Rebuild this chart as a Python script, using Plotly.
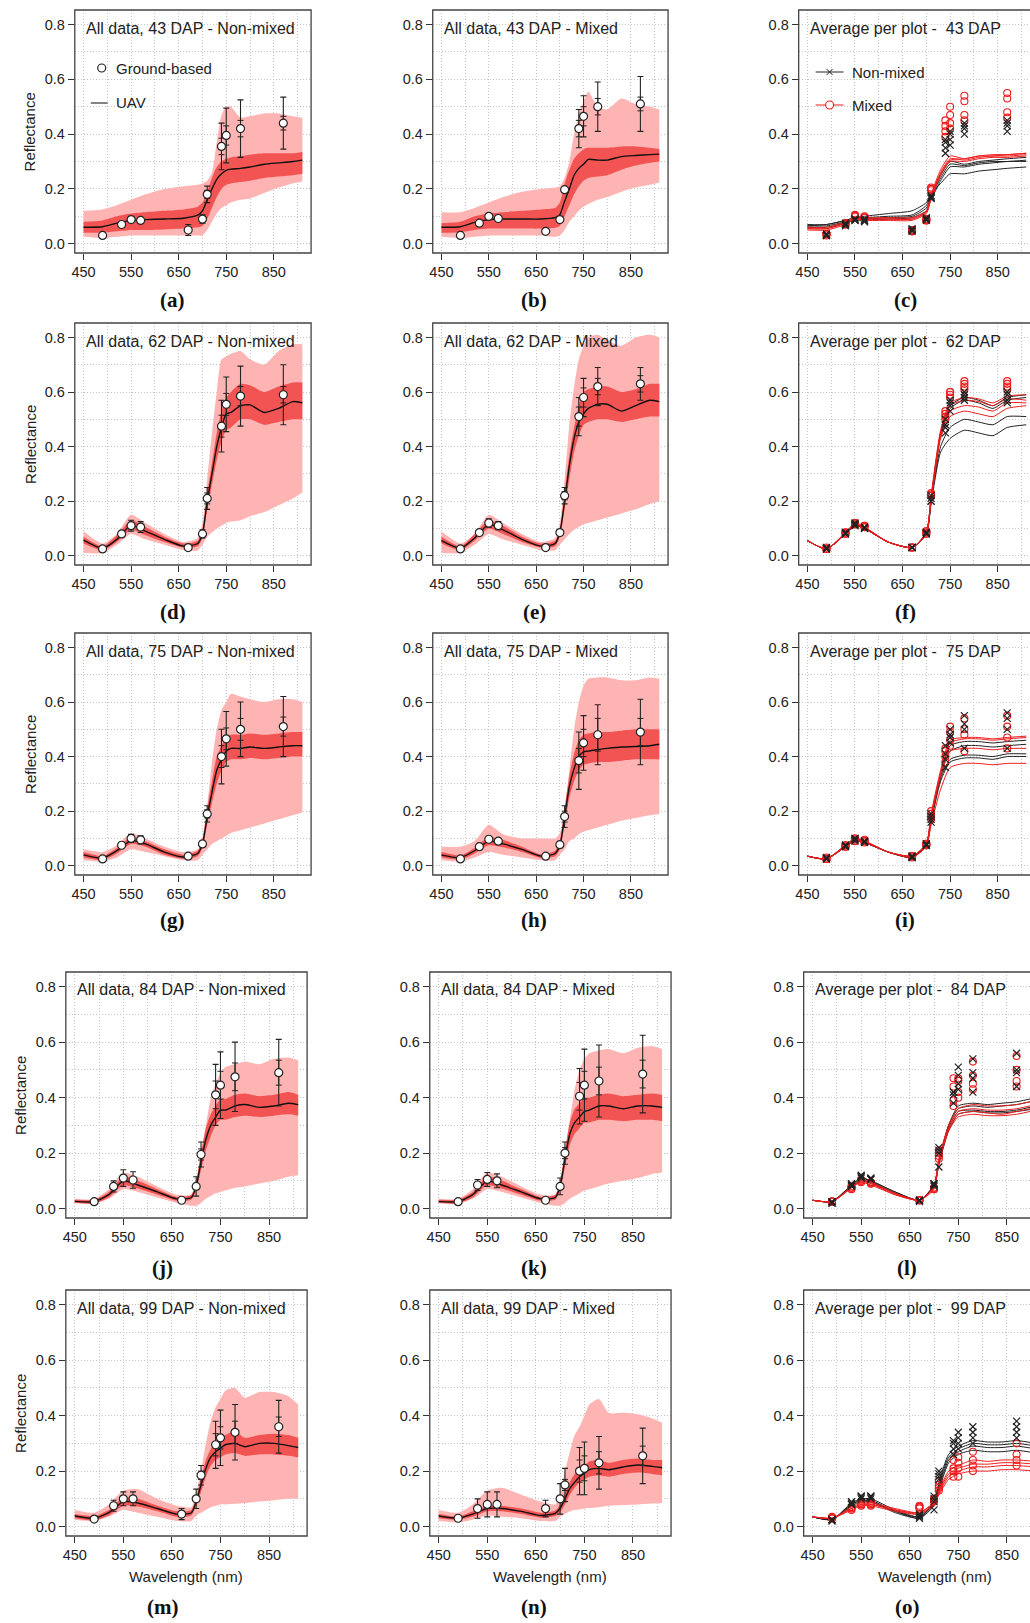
import plotly.graph_objects as go

W, H = 1030, 1623

# ---------------- wavelengths ----------------
wl = [450, 490, 520, 550, 580, 620, 660, 690, 700, 710, 720, 730, 740, 750, 760, 780, 800, 830, 860, 890, 910]
wl_g = [490, 530, 550, 570, 670, 700, 710, 740, 750, 780, 870]
wl3 = [450, 490, 530, 550, 570, 620, 670, 700, 710, 730, 750, 780, 810, 840, 870, 910]
x_ticks = [450, 550, 650, 750, 850]
y_ticks = [0.0, 0.2, 0.4, 0.6, 0.8]

# ---------------- (a) 43 DAP Non-mixed ----------------
a_mean = [.06, .062, .075, .085, .088, .09, .093, .104, .12, .16, .2, .235, .255, .268, .272, .275, .28, .29, .295, .3, .305]
a_in_lo = [.04, .04, .045, .05, .05, .052, .055, .06, .065, .09, .13, .17, .2, .215, .22, .225, .23, .24, .245, .25, .255]
a_in_hi = [.08, .085, .1, .11, .115, .12, .125, .135, .15, .19, .24, .28, .3, .31, .315, .32, .325, .33, .33, .33, .335]
a_out_lo = [.025, .02, .025, .03, .03, .03, .03, .03, .03, .05, .08, .11, .13, .14, .15, .16, .165, .185, .205, .22, .227]
a_out_hi = [.12, .125, .14, .16, .18, .2, .21, .215, .22, .23, .26, .37, .47, .5, .5, .46, .465, .475, .475, .465, .46]
a_gnd = [.03, .07, .088, .085, .05, .09, .18, .355, .395, .42, .44]
a_err = [0, .005, .005, .005, .02, .015, .03, .085, .1, .105, .095]
a_err2 = [0, 0, 0, 0, 0, 0, .015, .03, .035, .03, .025]

# ---------------- (b) 43 DAP Mixed ----------------
b_mean = [.06, .062, .078, .088, .09, .09, .09, .095, .106, .155, .2, .25, .275, .29, .308, .305, .305, .318, .322, .325, .327]
b_in_lo = [.04, .042, .05, .055, .055, .055, .055, .058, .065, .1, .14, .18, .21, .23, .24, .245, .25, .27, .285, .295, .3]
b_in_hi = [.075, .08, .1, .11, .115, .12, .125, .13, .15, .22, .27, .31, .33, .345, .35, .35, .35, .355, .355, .35, .345]
b_out_lo = [.025, .02, .025, .03, .03, .03, .03, .025, .03, .05, .08, .1, .12, .135, .145, .16, .17, .19, .205, .215, .223]
b_out_hi = [.115, .115, .13, .15, .17, .19, .2, .205, .21, .24, .3, .4, .47, .52, .555, .5, .49, .53, .51, .5, .49]
b_gnd = [.03, .075, .1, .092, .045, .088, .197, .42, .465, .5, .51]
b_err = [0, 0, 0, 0, 0, 0, 0, .07, .075, .09, .1]
b_err2 = [0, 0, 0, 0, 0, 0, 0, .03, .035, .03, .025]

# ---------------- (d) 62 DAP Non-mixed ----------------
d_mean = [.057, .027, .06, .112, .09, .06, .035, .045, .08, .2, .3, .4, .47, .52, .525, .55, .553, .525, .54, .565, .56]
d_in_lo = [.045, .02, .05, .095, .075, .05, .03, .035, .065, .17, .26, .35, .42, .46, .47, .5, .5, .48, .49, .5, .5]
d_in_hi = [.07, .035, .075, .13, .105, .07, .045, .055, .1, .23, .34, .45, .53, .58, .6, .63, .625, .6, .62, .635, .635]
d_out_lo = [.01, .01, .04, .08, .06, .04, .02, .02, .04, .07, .085, .1, .11, .12, .125, .13, .145, .16, .185, .21, .232]
d_out_hi = [.09, .045, .08, .15, .12, .08, .05, .065, .12, .28, .45, .6, .72, .73, .74, .75, .72, .7, .75, .775, .775]
d_gnd = [.025, .08, .11, .105, .03, .08, .21, .475, .555, .585, .59]
d_err = [0, .01, .02, .02, 0, .015, .04, .095, .1, .11, .11]
d_err2 = [0, 0, 0, 0, 0, 0, .02, .04, .04, .035, .03]

# ---------------- (e) 62 DAP Mixed ----------------
e_mean = [.055, .027, .065, .115, .095, .06, .035, .045, .085, .2, .33, .43, .49, .52, .54, .555, .555, .53, .55, .57, .565]
e_in_lo = [.045, .02, .055, .1, .08, .05, .03, .035, .07, .17, .28, .38, .44, .48, .49, .5, .5, .49, .5, .51, .51]
e_in_hi = [.07, .035, .08, .13, .11, .07, .045, .055, .1, .23, .37, .47, .55, .6, .61, .62, .62, .6, .61, .63, .63]
e_out_lo = [.01, .01, .04, .08, .06, .04, .02, .02, .04, .06, .08, .095, .105, .115, .12, .13, .14, .155, .17, .19, .2]
e_out_hi = [.09, .045, .08, .15, .12, .08, .05, .065, .12, .28, .48, .62, .72, .77, .8, .81, .79, .77, .8, .81, .8]
e_gnd = [.025, .085, .12, .11, .03, .085, .22, .51, .58, .62, .63]
e_err = [0, .01, .015, .015, 0, .01, .03, .07, .07, .07, .06]
e_err2 = [0, 0, 0, 0, 0, 0, .015, .035, .035, .03, .03]

# ---------------- (g) 75 DAP Non-mixed ----------------
g_mean = [.04, .028, .055, .092, .08, .05, .032, .045, .08, .18, .27, .35, .39, .42, .43, .43, .435, .43, .435, .44, .44]
g_in_lo = [.03, .02, .045, .08, .07, .04, .025, .035, .065, .15, .23, .3, .35, .38, .39, .39, .395, .39, .395, .4, .4]
g_in_hi = [.05, .035, .065, .105, .09, .06, .04, .055, .095, .21, .31, .4, .44, .47, .48, .48, .485, .48, .485, .49, .49]
g_out_lo = [.02, .015, .03, .06, .05, .035, .02, .02, .04, .06, .08, .09, .1, .11, .12, .13, .14, .155, .17, .185, .195]
g_out_hi = [.06, .05, .075, .12, .1, .07, .05, .06, .1, .22, .38, .5, .57, .6, .63, .62, .61, .6, .61, .61, .6]
g_gnd = [.025, .075, .1, .095, .035, .08, .19, .4, .465, .5, .51]
g_err = [0, .01, .015, .015, 0, .01, .03, .1, .1, .1, .11]
g_err2 = [0, 0, 0, 0, 0, 0, .015, .04, .04, .04, .035]

# ---------------- (h) 75 DAP Mixed ----------------
h_mean = [.039, .03, .055, .09, .08, .06, .035, .045, .075, .178, .29, .356, .4, .417, .42, .426, .43, .435, .437, .44, .445]
h_in_lo = [.03, .022, .045, .075, .068, .05, .028, .035, .06, .15, .25, .31, .35, .37, .375, .38, .38, .385, .39, .39, .39]
h_in_hi = [.05, .038, .065, .105, .095, .07, .042, .055, .09, .21, .33, .41, .46, .48, .485, .49, .49, .495, .5, .5, .5]
h_out_lo = [.02, .015, .03, .05, .04, .03, .02, .02, .04, .06, .09, .1, .115, .125, .13, .14, .15, .165, .175, .185, .19]
h_out_hi = [.07, .07, .09, .15, .115, .1, .1, .1, .12, .2, .35, .5, .6, .66, .685, .69, .69, .68, .68, .69, .685]
h_gnd = [.025, .07, .097, .09, .035, .077, .18, .385, .45, .48, .49]
h_err = [0, .01, .01, .01, 0, .01, .04, .105, .1, .11, .12]
h_err2 = [0, 0, 0, 0, 0, 0, .02, .045, .05, .06, .05]

# ---------------- (j) 84 DAP Non-mixed ----------------
j_mean = [.026, .025, .05, .1, .085, .06, .035, .04, .08, .17, .25, .3, .33, .355, .355, .37, .375, .365, .37, .38, .375]
j_in_lo = [.02, .018, .04, .085, .072, .05, .028, .032, .065, .14, .21, .26, .3, .32, .32, .33, .335, .33, .335, .34, .335]
j_in_hi = [.032, .032, .06, .115, .1, .07, .042, .05, .095, .2, .29, .34, .37, .395, .395, .41, .415, .405, .41, .42, .41]
j_out_lo = [.02, .018, .035, .07, .06, .04, .02, .01, .01, .02, .035, .045, .055, .06, .065, .075, .08, .09, .1, .115, .12]
j_out_hi = [.035, .035, .07, .13, .115, .08, .05, .05, .1, .2, .3, .4, .45, .49, .51, .52, .53, .52, .54, .545, .535]
j_gnd = [.025, .08, .11, .103, .03, .08, .195, .41, .445, .475, .49]
j_err = [0, .02, .03, .03, 0, .035, .045, .11, .12, .125, .12]
j_err2 = [0, 0, 0, 0, 0, 0, .02, .05, .05, .05, .045]

# ---------------- (k) 84 DAP Mixed ----------------
k_mean = [.025, .025, .05, .1, .085, .06, .035, .04, .08, .18, .27, .31, .33, .35, .355, .37, .37, .36, .37, .37, .365]
k_in_lo = [.02, .018, .04, .085, .072, .05, .028, .032, .065, .15, .23, .27, .29, .31, .31, .32, .32, .315, .32, .32, .315]
k_in_hi = [.032, .032, .06, .115, .1, .07, .042, .05, .095, .21, .31, .36, .38, .4, .4, .41, .415, .405, .41, .415, .41]
k_out_lo = [.02, .018, .035, .07, .06, .04, .02, .01, .01, .02, .035, .045, .055, .065, .07, .08, .09, .1, .11, .125, .13]
k_out_hi = [.035, .035, .07, .13, .115, .08, .05, .05, .1, .2, .32, .43, .5, .54, .56, .57, .575, .56, .58, .585, .575]
k_gnd = [.025, .085, .105, .1, .03, .08, .2, .405, .445, .46, .485]
k_err = [0, .02, .025, .025, 0, .03, .04, .1, .13, .13, .14]
k_err2 = [0, 0, 0, 0, 0, 0, .02, .05, .05, .05, .05]

# ---------------- (m) 99 DAP Non-mixed ----------------
m_mean = [.038, .03, .05, .09, .085, .065, .045, .05, .09, .15, .21, .25, .27, .282, .295, .3, .288, .3, .3, .292, .285]
m_in_lo = [.03, .022, .04, .075, .072, .055, .035, .04, .075, .125, .18, .22, .24, .25, .26, .265, .255, .26, .26, .255, .25]
m_in_hi = [.045, .038, .06, .105, .1, .075, .055, .06, .105, .175, .24, .28, .3, .315, .33, .345, .32, .33, .335, .33, .32]
m_out_lo = [.025, .02, .035, .06, .05, .035, .02, .02, .04, .05, .06, .07, .075, .08, .08, .082, .085, .09, .095, .1, .1]
m_out_hi = [.06, .05, .08, .13, .135, .1, .075, .07, .12, .2, .3, .38, .43, .46, .49, .5, .465, .485, .485, .47, .44]
m_gnd = [.027, .075, .1, .1, .045, .1, .185, .295, .32, .34, .36]
m_err = [0, .02, .025, .025, .02, .035, .035, .085, .1, .1, .095]
m_err2 = [0, 0, 0, 0, 0, 0, .015, .04, .04, .04, .035]

# ---------------- (n) 99 DAP Mixed ----------------
n_mean = [.038, .03, .045, .065, .065, .055, .04, .048, .066, .1, .138, .16, .18, .192, .205, .21, .205, .215, .222, .217, .212]
n_in_lo = [.03, .024, .035, .055, .055, .045, .032, .038, .052, .08, .115, .14, .16, .17, .18, .185, .18, .19, .195, .19, .185]
n_in_hi = [.045, .036, .055, .075, .075, .065, .05, .058, .08, .12, .16, .19, .21, .22, .235, .24, .23, .24, .245, .24, .24]
n_out_lo = [.02, .015, .025, .04, .035, .03, .02, .02, .035, .045, .055, .06, .062, .065, .067, .07, .075, .078, .08, .083, .085]
n_out_hi = [.06, .05, .08, .13, .14, .115, .09, .08, .12, .2, .27, .33, .36, .4, .44, .46, .41, .41, .405, .39, .375]
n_gnd = [.03, .065, .08, .08, .065, .1, .15, .2, .21, .23, .255]
n_err = [0, .035, .045, .045, .03, .055, .06, .085, .095, .095, .1]
n_err2 = [0, 0, 0, 0, 0, 0, .02, .04, .045, .04, .035]

# ---------------- (c) average per plot 43 DAP ----------------
c_nm_lines = [
    [.07, .07, .085, .095, .095, .1, .105, .14, .18, .25, .3, .29, .3, .305, .31, .315],
    [.065, .065, .08, .09, .09, .095, .1, .13, .17, .24, .29, .285, .295, .3, .3, .305],
    [.06, .06, .075, .085, .085, .09, .095, .12, .16, .23, .28, .28, .29, .295, .3, .3],
    [.065, .07, .085, .095, .1, .11, .12, .15, .18, .22, .255, .255, .265, .27, .275, .28]]
c_m_lines = [
    [.06, .06, .08, .1, .095, .095, .095, .12, .18, .27, .32, .31, .32, .325, .325, .33],
    [.055, .055, .075, .095, .09, .09, .09, .115, .17, .26, .31, .305, .315, .32, .32, .325],
    [.05, .05, .07, .09, .085, .085, .085, .11, .165, .25, .3, .3, .31, .315, .315, .32],
    [.055, .055, .075, .09, .09, .09, .09, .115, .17, .255, .305, .31, .32, .32, .325, .33]]
c_nm_pts = [
    [.03, .07, .09, .085, .05, .09, .17, .33, .36, .4, .41],
    [.035, .075, .085, .09, .055, .085, .175, .35, .38, .42, .43],
    [.03, .07, .09, .085, .045, .09, .17, .37, .4, .43, .44],
    [.035, .065, .085, .08, .05, .095, .165, .38, .41, .44, .45]]
c_m_pts = [
    [.035, .07, .1, .095, .045, .085, .2, .39, .42, .45, .46],
    [.035, .075, .1, .1, .05, .09, .2, .41, .44, .47, .48],
    [.03, .07, .105, .095, .045, .085, .195, .43, .47, .52, .53],
    [.035, .075, .1, .095, .05, .09, .205, .45, .5, .54, .55]]

# ---------------- (f) average per plot 62 DAP ----------------
f_nm_lines = [
    [.055, .025, .08, .11, .1, .05, .03, .08, .2, .45, .55, .58, .57, .55, .58, .59],
    [.055, .025, .08, .115, .1, .05, .03, .085, .21, .44, .54, .57, .56, .54, .57, .58],
    [.055, .025, .08, .11, .1, .05, .03, .08, .2, .4, .47, .5, .49, .48, .51, .51],
    [.055, .025, .08, .11, .1, .05, .03, .08, .19, .38, .43, .46, .45, .44, .47, .48]]
f_m_lines = [
    [.055, .025, .085, .12, .105, .05, .03, .085, .22, .46, .56, .58, .575, .56, .585, .59],
    [.055, .025, .085, .115, .105, .05, .03, .085, .215, .45, .55, .57, .565, .55, .575, .57],
    [.055, .025, .08, .115, .1, .05, .03, .085, .21, .44, .53, .55, .545, .53, .56, .56],
    [.055, .025, .08, .11, .1, .05, .03, .08, .2, .43, .51, .53, .52, .51, .54, .55]]
f_nm_pts = [
    [.025, .08, .11, .1, .03, .08, .2, .45, .53, .57, .56],
    [.025, .085, .115, .105, .03, .085, .21, .47, .55, .58, .57],
    [.025, .08, .12, .1, .03, .08, .22, .48, .56, .59, .59],
    [.03, .085, .115, .105, .03, .085, .2, .5, .57, .6, .6]]
f_m_pts = [
    [.025, .085, .12, .11, .03, .085, .22, .5, .58, .61, .61],
    [.025, .08, .115, .105, .03, .08, .225, .51, .59, .62, .62],
    [.03, .085, .12, .11, .03, .085, .23, .52, .6, .63, .63],
    [.025, .085, .115, .105, .03, .09, .22, .53, .6, .64, .64]]

# ---------------- (i) average per plot 75 DAP ----------------
i_nm_lines = [
    [.035, .025, .07, .09, .085, .05, .03, .075, .17, .33, .44, .455, .455, .45, .455, .46],
    [.035, .025, .075, .1, .09, .05, .035, .08, .18, .33, .42, .44, .44, .435, .44, .445],
    [.035, .025, .07, .095, .085, .05, .03, .075, .17, .32, .39, .405, .405, .4, .41, .41],
    [.035, .025, .07, .09, .085, .05, .03, .075, .16, .31, .38, .395, .395, .39, .4, .4]]
i_m_lines = [
    [.035, .025, .075, .1, .09, .05, .035, .08, .19, .35, .46, .47, .47, .465, .47, .475],
    [.035, .025, .075, .1, .09, .05, .035, .08, .18, .34, .45, .465, .465, .46, .465, .47],
    [.035, .025, .07, .095, .09, .05, .035, .075, .17, .33, .42, .43, .43, .425, .43, .43],
    [.035, .025, .07, .09, .085, .05, .03, .07, .15, .28, .36, .375, .375, .37, .375, .375]]
i_nm_pts = [
    [.025, .07, .09, .085, .03, .075, .16, .36, .45, .43, .43],
    [.025, .075, .1, .09, .035, .08, .17, .39, .47, .5, .5],
    [.025, .07, .095, .09, .03, .075, .18, .41, .48, .52, .54],
    [.03, .075, .1, .09, .035, .08, .19, .44, .5, .55, .56]]
i_m_pts = [
    [.025, .07, .09, .085, .035, .075, .17, .38, .44, .42, .43],
    [.025, .075, .1, .09, .035, .08, .18, .4, .46, .48, .47],
    [.025, .07, .095, .09, .03, .075, .19, .42, .49, .5, .51],
    [.03, .075, .1, .095, .035, .08, .2, .43, .51, .54, .55]]

# ---------------- (l) average per plot 84 DAP ----------------
l_nm_lines = [
    [.03, .025, .085, .11, .1, .06, .03, .085, .17, .3, .37, .38, .375, .38, .385, .4],
    [.03, .025, .085, .11, .1, .06, .03, .085, .17, .3, .36, .37, .365, .37, .375, .39],
    [.03, .025, .08, .105, .095, .055, .03, .08, .16, .29, .35, .355, .35, .35, .355, .37],
    [.03, .025, .08, .1, .095, .055, .03, .08, .16, .28, .34, .35, .345, .345, .35, .36]]
l_m_lines = [
    [.03, .025, .08, .105, .095, .055, .03, .08, .18, .3, .36, .375, .37, .37, .375, .39],
    [.03, .025, .075, .1, .09, .055, .03, .075, .175, .29, .35, .36, .355, .355, .36, .375],
    [.03, .025, .075, .1, .09, .05, .03, .075, .17, .285, .34, .35, .345, .34, .35, .365],
    [.03, .025, .075, .095, .085, .05, .03, .07, .165, .28, .33, .34, .335, .335, .34, .355]]
l_nm_pts = [
    [.025, .085, .115, .11, .03, .09, .15, .38, .43, .42, .44],
    [.02, .09, .12, .105, .03, .085, .2, .41, .45, .47, .49],
    [.025, .08, .11, .11, .03, .08, .21, .42, .48, .49, .5],
    [.02, .085, .115, .105, .025, .09, .22, .42, .51, .54, .56]]
l_m_pts = [
    [.025, .075, .1, .09, .03, .07, .18, .37, .4, .43, .44],
    [.025, .08, .105, .095, .03, .075, .19, .39, .42, .45, .46],
    [.025, .07, .095, .09, .03, .07, .2, .44, .46, .48, .5],
    [.025, .075, .1, .095, .03, .075, .21, .47, .47, .53, .55]]

# ---------------- (o) average per plot 99 DAP ----------------
o_nm_lines = [
    [.035, .025, .085, .1, .1, .06, .035, .09, .16, .26, .29, .31, .305, .305, .31, .3],
    [.035, .025, .08, .095, .095, .055, .035, .085, .15, .25, .28, .3, .295, .295, .3, .29],
    [.035, .025, .08, .095, .09, .055, .03, .08, .14, .24, .27, .29, .285, .285, .29, .28],
    [.035, .025, .075, .09, .09, .05, .03, .075, .13, .23, .26, .275, .27, .27, .275, .265]]
o_m_lines = [
    [.035, .03, .07, .085, .085, .065, .05, .09, .13, .2, .22, .24, .235, .24, .24, .235],
    [.035, .03, .065, .08, .08, .06, .05, .085, .125, .19, .21, .225, .225, .23, .23, .225],
    [.035, .03, .065, .08, .08, .06, .045, .08, .12, .18, .2, .215, .215, .22, .22, .215],
    [.035, .03, .06, .075, .075, .055, .045, .08, .115, .17, .19, .2, .2, .205, .205, .2]]
o_nm_pts = [
    [.025, .08, .1, .1, .03, .06, .17, .26, .28, .3, .32],
    [.025, .085, .105, .105, .035, .09, .18, .28, .3, .32, .34],
    [.02, .08, .11, .11, .04, .1, .19, .3, .32, .34, .36],
    [.025, .09, .11, .11, .045, .11, .2, .31, .34, .36, .38]]
o_m_pts = [
    [.03, .06, .075, .075, .065, .09, .13, .18, .18, .2, .22],
    [.03, .065, .08, .08, .07, .095, .14, .2, .21, .22, .24],
    [.035, .065, .08, .08, .07, .1, .15, .21, .23, .24, .26],
    [.03, .07, .085, .085, .075, .1, .165, .24, .25, .27, .3]]

# ---------------- panel definitions ----------------
all_data = {
    'a': ('All data, 43 DAP - Non-mixed', a_mean, a_in_lo, a_in_hi, a_out_lo, a_out_hi, a_gnd, a_err, a_err2),
    'b': ('All data, 43 DAP - Mixed', b_mean, b_in_lo, b_in_hi, b_out_lo, b_out_hi, b_gnd, b_err, b_err2),
    'd': ('All data, 62 DAP - Non-mixed', d_mean, d_in_lo, d_in_hi, d_out_lo, d_out_hi, d_gnd, d_err, d_err2),
    'e': ('All data, 62 DAP - Mixed', e_mean, e_in_lo, e_in_hi, e_out_lo, e_out_hi, e_gnd, e_err, e_err2),
    'g': ('All data, 75 DAP - Non-mixed', g_mean, g_in_lo, g_in_hi, g_out_lo, g_out_hi, g_gnd, g_err, g_err2),
    'h': ('All data, 75 DAP - Mixed', h_mean, h_in_lo, h_in_hi, h_out_lo, h_out_hi, h_gnd, h_err, h_err2),
    'j': ('All data, 84 DAP - Non-mixed', j_mean, j_in_lo, j_in_hi, j_out_lo, j_out_hi, j_gnd, j_err, j_err2),
    'k': ('All data, 84 DAP - Mixed', k_mean, k_in_lo, k_in_hi, k_out_lo, k_out_hi, k_gnd, k_err, k_err2),
    'm': ('All data, 99 DAP - Non-mixed', m_mean, m_in_lo, m_in_hi, m_out_lo, m_out_hi, m_gnd, m_err, m_err2),
    'n': ('All data, 99 DAP - Mixed', n_mean, n_in_lo, n_in_hi, n_out_lo, n_out_hi, n_gnd, n_err, n_err2),
}
avg_data = {
    'c': ('43', c_nm_lines, c_m_lines, c_nm_pts, c_m_pts),
    'f': ('62', f_nm_lines, f_m_lines, f_nm_pts, f_m_pts),
    'i': ('75', i_nm_lines, i_m_lines, i_nm_pts, i_m_pts),
    'l': ('84', l_nm_lines, l_m_lines, l_nm_pts, l_m_pts),
    'o': ('99', o_nm_lines, o_m_lines, o_nm_pts, o_m_pts),
}
order = ['a', 'b', 'c', 'd', 'e', 'f', 'g', 'h', 'i', 'j', 'k', 'l', 'm', 'n', 'o']

# ---------------- geometry (pixels) ----------------
rows_px = [(10, 253), (323, 565), (633, 875), (972, 1218), (1290, 1536)]
cols_top = [(72, 309), (431, 667), (798, 1035)]
cols_bot = [(63, 305), (428, 670), (803, 1045)]
label_y = [300, 612, 920, 1268, 1607]
label_x_top = [170, 533, 905]
label_x_bot = [160, 533, 907]
X0, XSPAN = 431.6, 496.8
Y_RANGE = [-0.034, 0.853]

LIGHT = '#FFB4B4'
DARK = '#F25454'
INK = '#222222'
RED = '#EE1C1C'
GRID = '#C4C4C4'
FONT = 'Liberation Sans, Arial, sans-serif'

fig = go.Figure()
layout = dict(width=W, height=H, margin=dict(l=0, r=0, t=0, b=0),
              paper_bgcolor='white', plot_bgcolor='white', showlegend=False,
              font=dict(family=FONT, color=INK))
shapes, annotations = [], []

def px(x):
    return x / W

def py(y):
    return 1 - y / H

grid_common = dict(showgrid=True, gridcolor=GRID, griddash='1px,2px', gridwidth=1,
                   zeroline=False, showline=False, ticks='outside', ticklen=6,
                   tickwidth=1, tickcolor='#333333',
                   tickfont=dict(size=14.5, color=INK, family=FONT))

for idx, key in enumerate(order):
    r, c = divmod(idx, 3)
    cols = cols_top if r < 3 else cols_bot
    x0p, x1p = cols[c]
    y0p, y1p = rows_px[r]
    x1c = min(x1p, W)
    xr1 = X0 + XSPAN * (x1c - x0p) / (x1p - x0p)
    n = '' if idx == 0 else str(idx + 1)
    xa, ya = 'x' + n, 'y' + n
    layout['xaxis' + n] = dict(domain=[px(x0p), px(x1c)], range=[X0, xr1], anchor=ya,
                               tickvals=x_ticks,
                               minor=dict(tickvals=[500, 600, 700, 800, 900], showgrid=True,
                                          gridcolor=GRID, griddash='1px,2px', ticks=''),
                               **grid_common)
    layout['yaxis' + n] = dict(domain=[py(y1p), py(y0p)], range=Y_RANGE, anchor=xa,
                               tickvals=y_ticks, tickformat='.1f',
                               minor=dict(tickvals=[0.1, 0.3, 0.5, 0.7], showgrid=True,
                                          gridcolor=GRID, griddash='1px,2px', ticks=''),
                               **grid_common)
    # frame
    shapes.append(dict(type='rect', xref='paper', yref='paper', x0=px(x0p), x1=px(x1p),
                       y0=py(y1p), y1=py(y0p), line=dict(color='#444444', width=1.3),
                       fillcolor='rgba(0,0,0,0)', layer='above'))
    # panel label
    lx = (label_x_top if r < 3 else label_x_bot)[c]
    annotations.append(dict(text='<b>(%s)</b>' % key, x=px(lx), y=py(label_y[r]), xref='paper',
                            yref='paper', showarrow=False, xanchor='center', yanchor='middle',
                            font=dict(family='Liberation Serif, Times New Roman, serif', size=21,
                                      color='#111111')))
    # y title for first column
    if c == 0:
        annotations.append(dict(text='Reflectance', x=px(27 if r < 3 else 17),
                                y=py((y0p + y1p) / 2), xref='paper', yref='paper',
                                showarrow=False, textangle=-90, xanchor='center',
                                yanchor='middle', font=dict(size=15, color=INK)))
    if r == 4:
        xc = [184, 549, 935][c]
        annotations.append(dict(text='Wavelength (nm)', x=px(xc), y=py(1576), xref='paper',
                                yref='paper', showarrow=False, xanchor='center',
                                yanchor='middle', font=dict(size=15, color=INK)))

    if key in all_data:
        title, mean, in_lo, in_hi, out_lo, out_hi, gnd, err, err2 = all_data[key]
        sp = dict(shape='spline', smoothing=0.6)
        fig.add_trace(go.Scatter(x=wl, y=out_lo, xaxis=xa, yaxis=ya, mode='lines',
                                 line=dict(width=0, **sp), hoverinfo='skip'))
        fig.add_trace(go.Scatter(x=wl, y=out_hi, xaxis=xa, yaxis=ya, mode='lines',
                                 line=dict(width=0, **sp), fill='tonexty', fillcolor=LIGHT,
                                 hoverinfo='skip'))
        fig.add_trace(go.Scatter(x=wl, y=in_lo, xaxis=xa, yaxis=ya, mode='lines',
                                 line=dict(width=0, **sp), hoverinfo='skip'))
        fig.add_trace(go.Scatter(x=wl, y=in_hi, xaxis=xa, yaxis=ya, mode='lines',
                                 line=dict(width=0, **sp), fill='tonexty', fillcolor=DARK,
                                 hoverinfo='skip'))
        fig.add_trace(go.Scatter(x=wl, y=mean, xaxis=xa, yaxis=ya, mode='lines',
                                 line=dict(color='#111111', width=1.4, **sp)))
        # inner error ticks
        fig.add_trace(go.Scatter(x=wl_g, y=gnd, xaxis=xa, yaxis=ya, mode='markers',
                                 error_y=dict(type='data', array=err2, color=INK,
                                              thickness=1.0, width=3),
                                 marker=dict(size=1, color='rgba(0,0,0,0)')))
        fig.add_trace(go.Scatter(x=wl_g, y=gnd, xaxis=xa, yaxis=ya, mode='markers',
                                 error_y=dict(type='data', array=err, color=INK,
                                              thickness=1.1, width=3),
                                 marker=dict(symbol='circle', size=8, color='white',
                                             line=dict(color=INK, width=1.2))))
        annotations.append(dict(text=title, x=px(x0p + 9), y=py(y0p + 18), xref='paper',
                                yref='paper', showarrow=False, xanchor='left',
                                yanchor='middle', font=dict(size=16, color=INK)))
    else:
        dap, nm_lines, m_lines, nm_pts, m_pts = avg_data[key]
        sp = dict(shape='spline', smoothing=0.6)
        for ln in nm_lines:
            fig.add_trace(go.Scatter(x=wl3, y=ln, xaxis=xa, yaxis=ya, mode='lines',
                                     line=dict(color=INK, width=1, **sp)))
        for ln in m_lines:
            fig.add_trace(go.Scatter(x=wl3, y=ln, xaxis=xa, yaxis=ya, mode='lines',
                                     line=dict(color=RED, width=1, **sp)))
        for pts in m_pts:
            fig.add_trace(go.Scatter(x=wl_g, y=pts, xaxis=xa, yaxis=ya, mode='markers',
                                     marker=dict(symbol='circle-open', size=7, color=RED,
                                                 line=dict(color=RED, width=1.1))))
        for pts in nm_pts:
            fig.add_trace(go.Scatter(x=wl_g, y=pts, xaxis=xa, yaxis=ya, mode='markers',
                                     marker=dict(symbol='x-thin', size=7, color=INK,
                                                 line=dict(color=INK, width=1.2))))
        annotations.append(dict(text='Average per plot - \u00a0' + dap + ' DAP',
                                x=px(x0p + 9), y=py(y0p + 18), xref='paper', yref='paper',
                                showarrow=False, xanchor='left', yanchor='middle',
                                font=dict(size=16, color=INK)))

# ---------------- legends (panel a and c) ----------------
# panel a
shapes.append(dict(type='circle', xref='paper', yref='paper', x0=px(95), x1=px(103),
                   y0=py(72), y1=py(64), line=dict(color=INK, width=1.2), fillcolor='white'))
annotations.append(dict(text='Ground-based', x=px(111), y=py(68), xref='paper', yref='paper',
                        showarrow=False, xanchor='left', yanchor='middle',
                        font=dict(size=15, color=INK)))
shapes.append(dict(type='line', xref='paper', yref='paper', x0=px(88), x1=px(105),
                   y0=py(103), y1=py(103), line=dict(color='#666666', width=1.6)))
annotations.append(dict(text='UAV', x=px(111), y=py(103), xref='paper', yref='paper',
                        showarrow=False, xanchor='left', yanchor='middle',
                        font=dict(size=15, color=INK)))
# panel c
shapes.append(dict(type='line', xref='paper', yref='paper', x0=px(815), x1=px(843),
                   y0=py(72), y1=py(72), line=dict(color=INK, width=1)))
shapes.append(dict(type='line', xref='paper', yref='paper', x0=px(826), x1=px(832),
                   y0=py(69), y1=py(75), line=dict(color=INK, width=1)))
shapes.append(dict(type='line', xref='paper', yref='paper', x0=px(826), x1=px(832),
                   y0=py(75), y1=py(69), line=dict(color=INK, width=1)))
annotations.append(dict(text='Non-mixed', x=px(849), y=py(72), xref='paper', yref='paper',
                        showarrow=False, xanchor='left', yanchor='middle',
                        font=dict(size=15, color=INK)))
shapes.append(dict(type='line', xref='paper', yref='paper', x0=px(815), x1=px(843),
                   y0=py(105), y1=py(105), line=dict(color=RED, width=1)))
shapes.append(dict(type='circle', xref='paper', yref='paper', x0=px(825), x1=px(833),
                   y0=py(109), y1=py(101), line=dict(color=RED, width=1.1), fillcolor='white'))
annotations.append(dict(text='Mixed', x=px(849), y=py(105), xref='paper', yref='paper',
                        showarrow=False, xanchor='left', yanchor='middle',
                        font=dict(size=15, color=INK)))

layout['shapes'] = shapes
layout['annotations'] = annotations
fig.update_layout(**layout)
fig.write_html('out.html', config={'displayModeBar': False},
               post_script="document.body.style.margin='0';"
                           "document.body.style.overflow='hidden';"
                           "document.documentElement.style.overflow='hidden';")
